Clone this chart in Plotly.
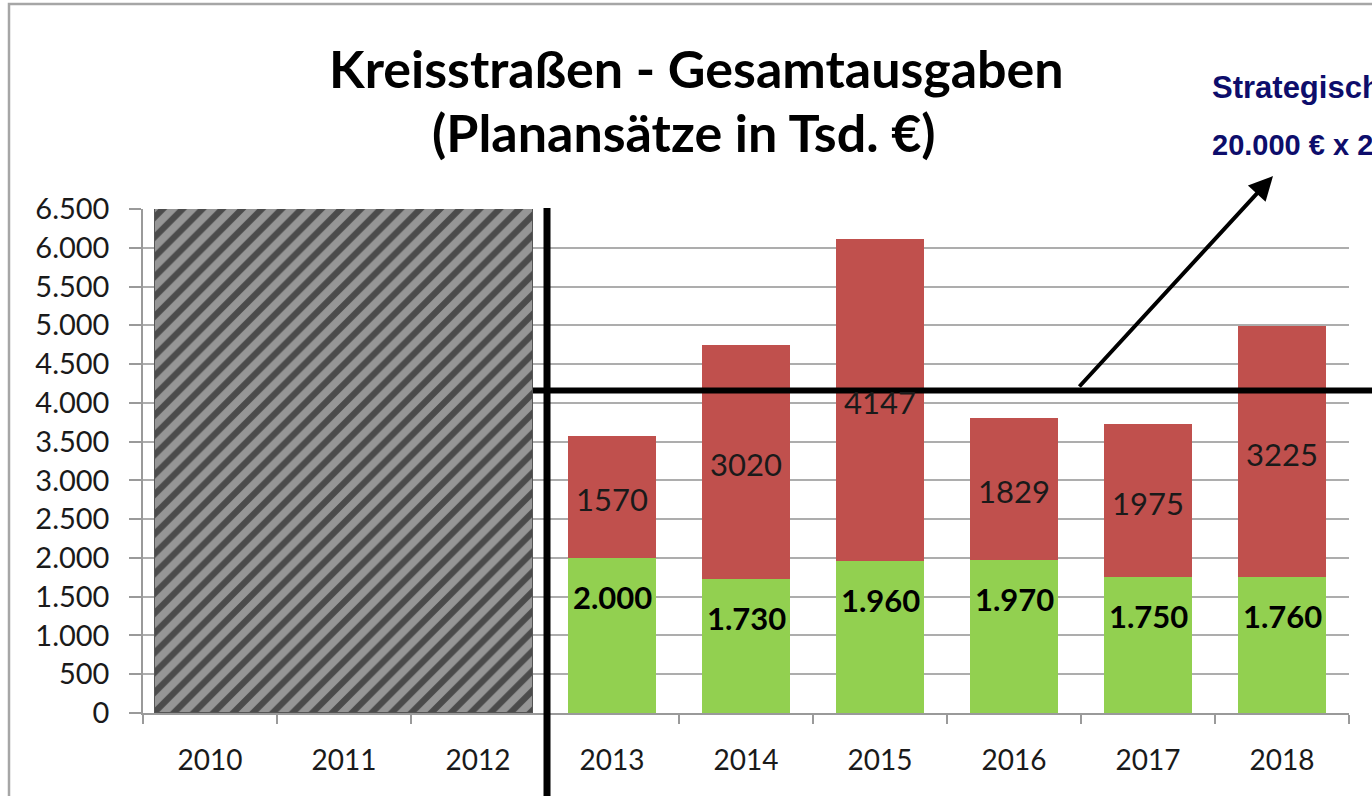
import plotly.graph_objects as go

# ---- data ----
years = ["2010", "2011", "2012", "2013", "2014", "2015", "2016", "2017", "2018"]
plan_years = ["2013", "2014", "2015", "2016", "2017", "2018"]
green_values = [2000, 1730, 1960, 1970, 1750, 1760]
red_values = [1570, 3020, 4147, 1829, 1975, 3225]
green_labels = ["2.000", "1.730", "1.960", "1.970", "1.750", "1.760"]
hatched_years = ["2010", "2011", "2012"]
hatched_height = 6500
target_value = 4160
y_ticks = list(range(0, 6501, 500))
y_ticklabels = ["{:,}".format(v).replace(",", ".") for v in y_ticks]

title_line1 = "Kreisstraßen - Gesamtausgaben"
title_line2 = "(Planansätze in Tsd. €)"
note_line1 = "Strategische Vorgabe"
note_line2 = "20.000 € x 208 km"

GREEN = "#92D050"
RED = "#C0504D"
FONT = "Lato"

W, H = 1372, 796
L, R, T, B = 143, 23, 209, 83
PW, PH = W - L - R, H - T - B

def px_x(px):
    return (px - L) / PW

def px_y(py):
    return (H - B - py) / PH

idx = {y: i for i, y in enumerate(years)}
xpos = [idx[y] for y in plan_years]
hx = [idx[y] for y in hatched_years]

fig = go.Figure()

# hatched block 2010-2012
fig.add_trace(go.Bar(
    x=[sum(hx) / len(hx)], y=[hatched_height], width=[len(hx) - 0.18],
    marker=dict(color="#969696",
                line=dict(color="#555555", width=1),
                pattern=dict(shape="/", fgcolor="#000000", bgcolor="#969696",
                             size=14, solidity=0.45)),
    showlegend=False, hoverinfo="skip"))

fig.add_trace(go.Bar(x=xpos, y=green_values, width=0.66,
                     marker=dict(color=GREEN, line=dict(width=0)),
                     showlegend=False))
fig.add_trace(go.Bar(x=xpos, y=red_values, width=0.66,
                     marker=dict(color=RED, line=dict(width=0)),
                     showlegend=False))

annotations = []
for x, g, r, gl in zip(xpos, green_values, red_values, green_labels):
    annotations.append(dict(x=x, y=g, xref="x", yref="y", text="<b>" + gl + "</b>",
                            showarrow=False, yshift=-39,
                            font=dict(family=FONT, size=31, color="#000000")))
    annotations.append(dict(x=x, y=g + r / 2, xref="x", yref="y", text=str(r),
                            showarrow=False, yshift=-2,
                            font=dict(family=FONT, size=31, color="#1a1a1a")))

# titles
annotations.append(dict(x=px_x(696), y=px_y(68), xref="paper", yref="paper",
                        text="<b>" + title_line1 + "</b>", showarrow=False,
                        xanchor="center", yanchor="middle",
                        font=dict(family=FONT, size=52, color="#000000")))
annotations.append(dict(x=px_x(684), y=px_y(132), xref="paper", yref="paper",
                        text="<b>" + title_line2 + "</b>", showarrow=False,
                        xanchor="center", yanchor="middle",
                        font=dict(family=FONT, size=52, color="#000000")))

# note text (cut at right edge, as in the original)
annotations.append(dict(x=px_x(1210), y=px_y(88), xref="paper", yref="paper",
                        text="<b>" + note_line1 + "</b>", showarrow=False,
                        xanchor="left", yanchor="middle",
                        font=dict(family="Liberation Sans", size=31, color="#0D0D6B")))
annotations.append(dict(x=px_x(1210), y=px_y(145), xref="paper", yref="paper",
                        text="<b>" + note_line2 + "</b>", showarrow=False,
                        xanchor="left", yanchor="middle",
                        font=dict(family="Liberation Sans", size=29, color="#0D0D6B")))

# arrow
annotations.append(dict(x=px_x(1273), y=px_y(176), xref="paper", yref="paper",
                        ax=-195, ay=212, axref="pixel", ayref="pixel",
                        text="", showarrow=True, arrowhead=2, arrowsize=1.2,
                        arrowwidth=4, arrowcolor="#000000"))

shapes = [
    # outer frame
    dict(type="rect", xref="paper", yref="paper",
         x0=px_x(9), x1=px_x(1390), y0=px_y(810), y1=px_y(4),
         line=dict(color="#A6A6A6", width=2.5), layer="below"),
    # vertical separator
    dict(type="line", xref="x", yref="paper", x0=2.515, x1=2.515,
         y0=px_y(850), y1=px_y(208), line=dict(color="#000000", width=7)),
    # target line
    dict(type="line", xref="paper", yref="y", x0=px_x(533), x1=px_x(1400),
         y0=target_value, y1=target_value, line=dict(color="#000000", width=6)),
]

fig.update_layout(
    width=W, height=H,
    margin=dict(l=L, r=R, t=T, b=B, autoexpand=False),
    paper_bgcolor="white", plot_bgcolor="white",
    barmode="stack", bargap=0,
    separators=",.",
    annotations=annotations, shapes=shapes,
    font=dict(family=FONT, color="#1a1a1a"),
)
fig.update_xaxes(
    range=[-0.5, len(years) - 0.5],
    tickmode="array", tickvals=list(range(len(years))), ticktext=years,
    ticks="", showgrid=False, zeroline=False,
    showline=True, linecolor="#9A9A9A", linewidth=1.5,
    tickfont=dict(family=FONT, size=28, color="#1a1a1a"),
    ticklabelstandoff=22,
    minor=dict(tickvals=[i - 0.5 for i in range(len(years) + 1)],
               ticks="outside", ticklen=9, tickcolor="#9A9A9A", tickwidth=1.5,
               showgrid=False),
)
fig.update_yaxes(
    range=[0, 6500],
    tickmode="array", tickvals=y_ticks, ticktext=y_ticklabels,
    ticks="outside", ticklen=12, tickcolor="#9A9A9A", tickwidth=1.5,
    showgrid=True, gridcolor="#ADADAD", gridwidth=1.5,
    zeroline=False, showline=True, linecolor="#9A9A9A", linewidth=1.5,
    tickfont=dict(family=FONT, size=29, color="#1a1a1a"),
    ticklabelstandoff=14,
)

fig.write_html("out.html",
               config={"displayModeBar": False},
               post_script="document.body.style.margin='0px';"
                           "document.body.style.overflow='hidden';")
